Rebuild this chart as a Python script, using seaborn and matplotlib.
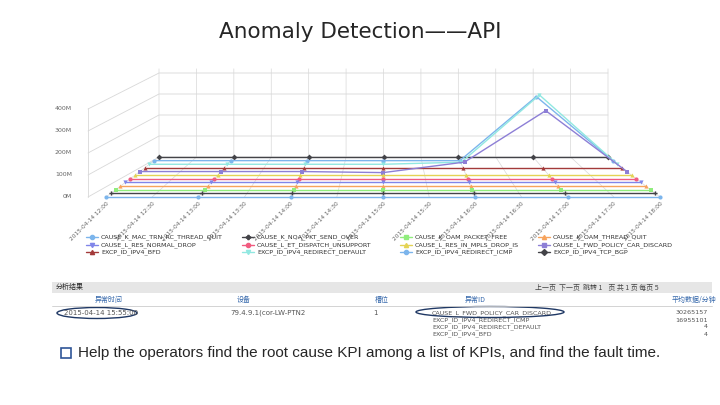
import matplotlib
matplotlib.use("Agg")
import matplotlib.pyplot as plt
from matplotlib.patches import Ellipse
import numpy as np
import pandas as pd
import seaborn as sns

sns.set_style("white")

# ---- data ----
times = ["12:00", "12:30", "13:00", "13:30", "14:00", "14:30", "15:00",
         "15:30", "16:00", "16:30", "17:00", "17:30", "18:00"]
tick_labels = ["2015-04-14 " + t for t in times]
point_idx = [0, 2, 4, 6, 8, 10, 12]          # hourly samples on the 13 tick slots

series_names = [
    "CAUSE_K_MAC_TRN_RC_THREAD_QUIT", "CAUSE_K_NQA_PKT_SEND_OVER",
    "CAUSE_K_OAM_PACKET_FREE", "CAUSE_K_OAM_THREAD_QUIT",
    "CAUSE_L_RES_NORMAL_DROP", "CAUSE_L_ET_DISPATCH_UNSUPPORT",
    "CAUSE_L_RES_IN_MPLS_DROP_IS", "CAUSE_L_FWD_POLICY_CAR_DISCARD",
    "EXCP_ID_IPV4_BFD", "EXCP_ID_IPV4_REDIRECT_DEFAULT",
    "EXCP_ID_IPV4_REDIRECT_ICMP", "EXCP_ID_IPV4_TCP_BGP",
]
# values in M, one per hourly sample
series_values = [
    [0, 0, 0, 0, 0, 0, 0],
    [0, 0, 0, 0, 0, 0, 0],
    [0, 0, 0, 0, 0, 0, 0],
    [0, 0, 0, 0, 0, 0, 0],
    [0, 0, 0, 0, 0, 0, 0],
    [0, 0, 0, 0, 0, 0, 0],
    [0, 0, 0, 0, 0, 0, 0],
    [0, 0, 0, -5, 45, 290, 0],
    [0, 0, 0, 0, 0, 0, 0],
    [0, 0, 0, 0, 10, 330, 0],
    [0, 0, 0, 0, 0, 305, 0],
    [0, 0, 0, 0, 0, 0, 0],
]
y_ticks = [0, 100, 200, 300, 400]

colors = ["#7cb5ec", "#434348", "#90ed7d", "#f7a35c", "#8085e9", "#f15c80",
          "#e4d354", "#8d7fd6", "#a33a3a", "#91e8e1", "#7cb5ec", "#434348"]
markers = ["o", "P", "s", "^", "v", "o", "^", "s", "^", "v", "o", "D"]

# ---- pseudo-3D projection into figure pixels ----
NDEPTH = len(series_names) - 1


def project(slot, value, depth):
    f = depth / NDEPTH
    x_left = 106 + 53 * f
    x_right = 660 - 52 * f
    x = x_left + (x_right - x_left) * slot / 12
    y = 197 - 40 * f - value * 0.21
    return x, y


fig = plt.figure(figsize=(7.2, 4.05), dpi=100)
ax = fig.add_axes([0, 0, 1, 1])
ax.set_xlim(0, 720)
ax.set_ylim(405, 0)
ax.axis("off")

fig.text(0.5, 0.905, "Anomaly Detection——API", ha="center", fontsize=15.5,
         family="DejaVu Sans")

# grid / walls
grid_c = "#d8d8d8"
for v in y_ticks:
    x0, y0 = 88, 197 - v * 0.22
    x1, y1 = project(0, v, NDEPTH)
    x2, y2 = project(12, v, NDEPTH)
    ax.plot([x0, x1, x2], [y0, y1, y2], color=grid_c, lw=0.6)
    ax.text(72, y0, f"{v}M", fontsize=4.5, color="#666666", ha="right", va="center")
ax.plot([88, 88], [197, 108], color=grid_c, lw=0.6)
for s in range(13):
    xf, yf = project(s, 0, 0)
    xb, yb = project(s, 0, NDEPTH)
    xt, yt = project(s, 420, NDEPTH)
    ax.plot([xf, xb, xt], [yf, yb, yt], color=grid_c, lw=0.5)

# series, back to front
rows = []
for d in range(len(series_names)):
    for k, s in enumerate(point_idx):
        x, y = project(s, series_values[d][k], d)
        rows.append({"series": series_names[d], "x": x, "y": y, "d": d})
df = pd.DataFrame(rows)
for d in reversed(range(len(series_names))):
    sub = df[df["d"] == d]
    sns.lineplot(data=sub, x="x", y="y", ax=ax, color=colors[d], lw=1.0,
                 marker=markers[d], markersize=3, markeredgewidth=0,
                 sort=False, legend=False)
ax.set_xlim(0, 720)
ax.set_ylim(405, 0)
ax.axis("off")

for s, lab in enumerate(tick_labels):
    x, y = project(s, 0, 0)
    ax.text(x, y + 4, lab, fontsize=4.2, color="#666666", rotation=45,
            ha="right", va="top", rotation_mode="anchor")

# legend
leg_x = [92, 248, 406, 544]
leg_y = [237, 245, 252]
for i, name in enumerate(series_names):
    x, y = leg_x[i % 4], leg_y[i // 4]
    ax.plot([x - 6, x + 6], [y, y], color=colors[i], lw=1)
    ax.plot(x, y, marker=markers[i], color=colors[i], markersize=3)
    ax.text(x + 9, y, name, fontsize=4.6, color="#333333", va="center")

# result table
ax.add_patch(plt.Rectangle((52, 282), 660, 11, color="#e6e6e6", lw=0))
ax.text(56, 287.5, "分析结果", fontsize=5, va="center", family="Noto Sans CJK SC")
ax.text(535, 287.5, "上一页  下一页  跳转 1    页 共 1 页 每页 5", fontsize=5,
        va="center", family="Noto Sans CJK SC", color="#444444")
headers = [(95, "异常时间"), (237, "设备"), (375, "槽位"), (465, "异常ID"), (672, "平均数据/分钟")]
for x, h in headers:
    ax.text(x, 300, h, fontsize=5, color="#3366aa", va="center", family="Noto Sans CJK SC")
ax.plot([52, 712], [306, 306], color="#cccccc", lw=0.6)
ax.text(64, 313, "2015-04-14 15:55:00", fontsize=5, color="#555555", va="center")
ax.text(230, 313, "79.4.9.1(cor-LW-PTN2", fontsize=5, color="#555555", va="center")
ax.text(373, 313, "1", fontsize=5, color="#555555", va="center")
ids = ["CAUSE_L_FWD_POLICY_CAR_DISCARD", "EXCP_ID_IPV4_REDIRECT_ICMP",
       "EXCP_ID_IPV4_REDIRECT_DEFAULT", "EXCP_ID_IPV4_BFD"]
nums = ["30265157", "16955101", "4", "4"]
for i, (t, n) in enumerate(zip(ids, nums)):
    ax.text(432, 313 + 7 * i, t, fontsize=4.6, color="#555555", va="center")
    ax.text(708, 313 + 7 * i, n, fontsize=4.6, color="#555555", va="center", ha="right")
ax.add_patch(Ellipse((97, 313), 80, 11, fill=False, ec="#1f3864", lw=1))
ax.add_patch(Ellipse((490, 312), 148, 11, fill=False, ec="#1f3864", lw=1))

# bullet
ax.plot(66, 353, marker="s", markersize=7, color="#2f5597", mfc="white", mew=1.2)
ax.text(78, 353, "Help the operators find the root cause KPI among a list of KPIs, and find the fault time.",
        fontsize=11, va="center", family="Liberation Sans")

fig.savefig("out.png", dpi=100)
